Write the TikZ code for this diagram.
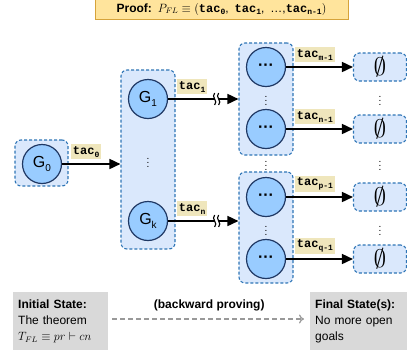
\documentclass[tikz,border=0pt]{standalone}
\usepackage{fontspec}
\setmainfont{Liberation Sans}
\setmonofont{Liberation Mono}
\usepackage{amsmath, amssymb}
\usepackage{graphicx}
\usetikzlibrary{positioning, arrows, arrows.meta, shapes.geometric}

\definecolor{goalfill}{HTML}{99CCFF}
\definecolor{goalline}{HTML}{1F3864}
\definecolor{grpfill}{HTML}{DAE8FC}
\definecolor{grpline}{HTML}{2E75B6}
\definecolor{tacfill}{HTML}{EFE6BC}
\definecolor{prooffill}{HTML}{FFE49C}
\definecolor{proofline}{HTML}{D6A33A}
\definecolor{statefill}{HTML}{D9D9D9}

\newcommand{\tac}[1]{\texttt{\bfseries tac}\raisebox{-.45ex}{\texttt{\bfseries\fontsize{8}{8}\selectfont #1}}}
\newcommand{\gidx}[1]{\raisebox{-.45ex}{\fontsize{10}{10}\selectfont #1}}
\newcommand{\noleft}{\resizebox{!}{19pt}{$\emptyset$}}

\begin{document}
\begin{tikzpicture}[x=1pt, y=-1pt,
    > = {Triangle[length=11pt, width=10pt]},
    goal/.style={draw=goalline, line width=1.2pt,
        circle, fill=goalfill,
        minimum size=39pt, inner sep=0pt,
        font=\fontsize{16}{16}\selectfont},
    group/.style={draw=grpline, line width=1.1pt,
        dash pattern=on 3pt off 2pt,
        rounded corners=6pt, fill=grpfill},
    leer/.style={group, minimum width=53pt, minimum height=28pt,
        inner sep=0pt},
    tacl/.style={fill=tacfill, inner sep=2pt,
        font=\fontsize{12}{12}\selectfont,
        at start, anchor=south west, xshift=8pt, yshift=4pt},
    arr/.style={->, line width=1.6pt},
    vdot/.style={inner sep=0pt, font=\fontsize{10}{10}\selectfont},
    statebox/.style={fill=statefill, anchor=north west,
        align=left, inner xsep=5pt, inner ysep=3pt,
        minimum height=58pt,
        font=\fontsize{12}{16}\selectfont},
    brk/.pic={
        \fill[white] (-2,-6) rectangle (2,6);
        \draw[line width=1.1pt] (-2,-6) .. controls (-6,-2) and (2,2) .. (-2,6);
        \draw[line width=1.1pt] (2,-6) .. controls (-2,-2) and (6,2) .. (2,6);
    }
]
    \useasboundingbox (0,0) rectangle (407,349);

    % proof
    \node [draw=proofline, line width=1pt,
        fill=prooffill,
        minimum width=253pt, minimum height=20pt,
        inner sep=2pt,
        font=\fontsize{12}{12}\selectfont
    ] (proof) at (221.5,9) {\textbf{Proof:}\enspace $P_{FL}\equiv($\tac{0},\enspace\tac{1},\enspace\dots,\tac{n-1}$)$};

    % G0
    \node [group,
        minimum width=53pt, minimum height=46pt
    ] (box0) at (41.5,163) {};
    \node [goal] (g0) at (42,164) {G\gidx{0}};

    % G1 ... Gk
    \node [group,
        minimum width=54pt, minimum height=179pt
    ] (box1) at (148,159.5) {};
    \node [goal] (g1) at (148,99) {G\gidx{1}};
    \node [goal] (gk) at (148,221) {G\gidx{k}};
    \node [vdot] (d1) at (148,160) {$\vdots$};

    % right groups
    \node [group,
        minimum width=54pt, minimum height=112pt
    ] (boxa) at (266,99) {};
    \node [goal] (a1) at (266,67) {\textbf{···}};
    \node [goal] (a2) at (266,129) {\textbf{···}};
    \node [vdot] (da) at (266,98) {$\vdots$};
    \node [vdot] (dab) at (266,163) {$\vdots$};

    \node [group,
        minimum width=54pt, minimum height=111pt
    ] (boxb) at (266,227.5) {};
    \node [goal] (b1) at (266,197) {\textbf{···}};
    \node [goal] (b2) at (266,259) {\textbf{···}};
    \node [vdot] (db) at (266,228) {$\vdots$};

    % empty goals
    \node [leer] (e1) at (380,67) {\noleft};
    \node [leer] (e2) at (380,129) {\noleft};
    \node [leer] (e3) at (380,197) {\noleft};
    \node [leer] (e4) at (380,259) {\noleft};
    \node [vdot] (de1) at (380,98) {$\vdots$};
    \node [vdot] (de2) at (380,163) {$\vdots$};
    \node [vdot] (de3) at (380,228) {$\vdots$};

    % tactics
    \draw [arr] (g0) -- node [tacl] {\tac{0}} (box1.west |- g0);
    \draw [arr] (g1) -- node [tacl] {\tac{1}} coordinate [pos=0.69] (w1) (boxa.west |- g1);
    \draw [arr] (gk) -- node [tacl] {\tac{n}} coordinate [pos=0.69] (wk) (boxb.west |- gk);
    \pic at (w1) {brk};
    \pic at (wk) {brk};

    \draw [arr] (a1) -- node [tacl] {\tac{m-1}} (e1);
    \draw [arr] (a2) -- node [tacl] {\tac{n-1}} (e2);
    \draw [arr] (b1) -- node [tacl] {\tac{p-1}} (e3);
    \draw [arr] (b2) -- node [tacl] {\tac{q-1}} (e4);

    % states
    \node [statebox, text width=85pt,
        minimum width=95pt
    ] (init) at (13,292) {\textbf{Initial State:}\\The theorem\\$T_{FL}\equiv pr\vdash cn$};
    \node [statebox, text width=87pt,
        minimum width=97pt
    ] (final) at (310,292) {\textbf{Final State(s):}\\No more open\\goals};

    \draw [-{To[length=5pt, width=9pt]}, draw=gray!80,
        line width=1.2pt, dash pattern=on 5pt off 3pt,
        shorten <=4pt, shorten >=6pt
    ] (init.east |- 0,319) -- node [above=4pt, text=black,
        font=\bfseries\fontsize{12}{12}\selectfont] {(backward proving)} (final.west |- 0,319);
\end{tikzpicture}
\end{document}
